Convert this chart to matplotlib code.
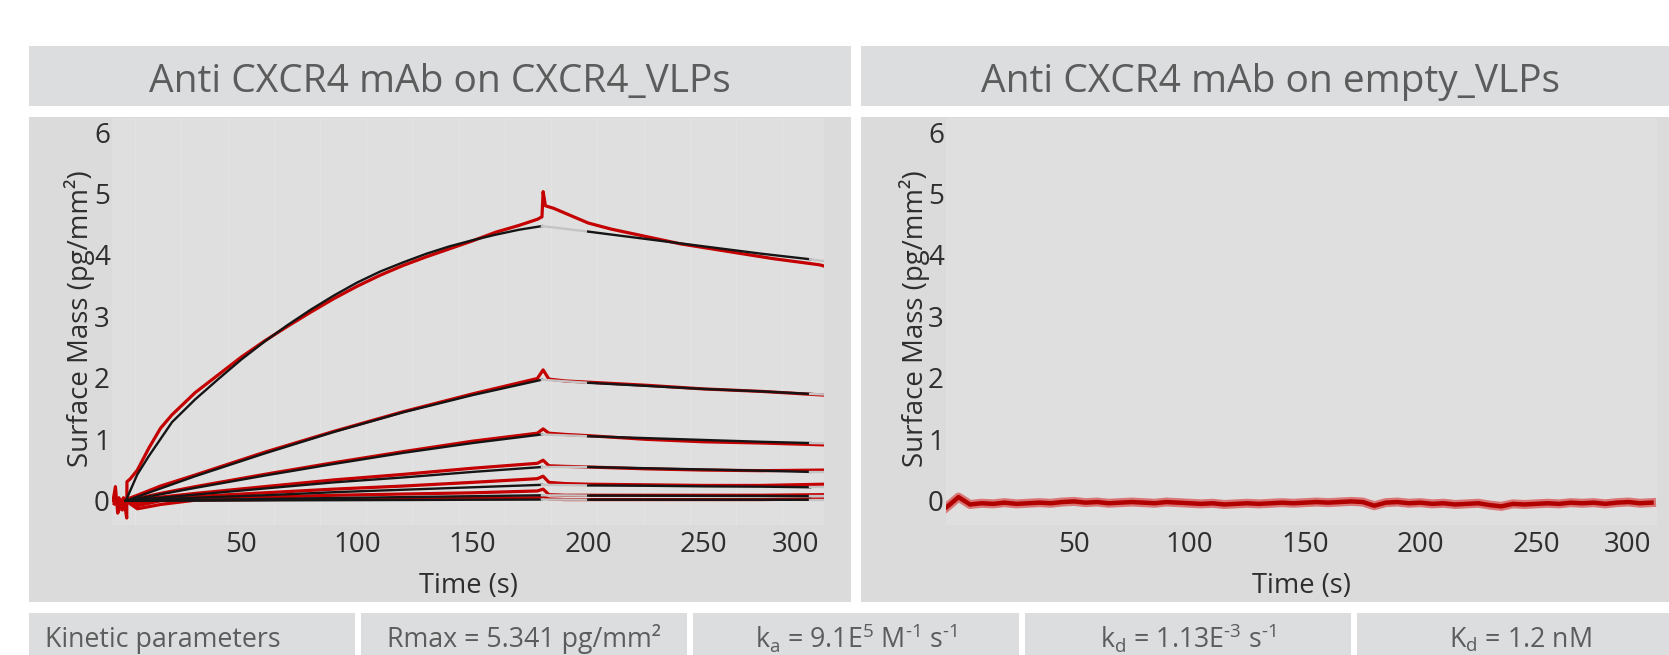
import matplotlib
matplotlib.use('Agg')
import matplotlib.pyplot as plt
from matplotlib.patches import Rectangle

plt.rcParams['font.family'] = ['Open Sans', 'DejaVu Sans']
plt.rcParams['mathtext.fontset'] = 'custom'
plt.rcParams['mathtext.rm'] = 'Open Sans'
plt.rcParams['mathtext.it'] = 'Open Sans:italic'
plt.rcParams['mathtext.bf'] = 'Open Sans:bold'

# ---------------- data ----------------
titles = ["Anti CXCR4 mAb on CXCR4_VLPs", "Anti CXCR4 mAb on empty_VLPs"]
table_labels = ["Kinetic parameters",
                "Rmax = 5.341 pg/mm\u00b2",
                r"k$_{\mathrm{a}}$ = 9.1E$^{\mathrm{5}}$ M$^{\text{-1}}$ s$^{\text{-1}}$",
                r"k$_{\mathrm{d}}$ = 1.13E$^{\text{-3}}$ s$^{\text{-1}}$",
                r"K$_{\mathrm{d}}$ = 1.2 nM"]
x_ticks = [50, 100, 150, 200, 250, 300]
y_ticks = [0, 1, 2, 3, 4, 5, 6]
x_label = "Time (s)"
y_label = "Surface Mass (pg/mm\u00b2)"

# highest concentration: measured trace
t_hi = [-5.5, -4.5, -3.5, -2.5, -1.5, -0.5, 0.4, 0.5, 2, 5, 10, 15, 20, 30, 40, 50, 60, 70,
        80, 90, 100, 110, 120, 130, 140, 150, 160, 170, 178, 180, 180.5, 181.5, 185,
        190, 200, 210, 220, 230, 240, 250, 260, 270, 280, 290, 300, 302]
data_hi = [0.0, 0.23, -0.2, -0.1, -0.15, -0.05, -0.28, 0.31, 0.36, 0.50, 0.86, 1.18, 1.40,
           1.76, 2.05, 2.34, 2.60, 2.84, 3.07, 3.29, 3.49, 3.67, 3.83, 3.97, 4.10, 4.23,
           4.37, 4.48, 4.58, 4.62, 5.03, 4.80, 4.76, 4.68, 4.52, 4.42, 4.34, 4.26, 4.18,
           4.12, 4.06, 4.00, 3.94, 3.89, 3.84, 3.82]

# lower concentrations: measured traces
t_lo = [-5, -3, -1, 0, 5, 15, 30, 60, 90, 120, 150, 178, 180.5, 183, 190, 200, 225, 250, 275, 302]
data_c2 = [0.05, -0.08, 0.0, 0.02, 0.09, 0.24, 0.42, 0.79, 1.13, 1.45, 1.74, 1.99, 2.13, 1.98, 1.95, 1.93, 1.88, 1.82, 1.78, 1.72]
data_c3 = [0.0, -0.1, 0.05, 0.0, 0.04, 0.12, 0.23, 0.43, 0.62, 0.80, 0.97, 1.10, 1.17, 1.10, 1.08, 1.06, 1.00, 0.96, 0.94, 0.91]
data_c4 = [-0.05, 0.05, -0.1, 0.0, 0.02, 0.06, 0.12, 0.23, 0.34, 0.43, 0.53, 0.61, 0.66, 0.57, 0.56, 0.55, 0.52, 0.50, 0.49, 0.50]
data_c5 = [0.0, -0.05, 0.02, 0.0, -0.03, 0.02, 0.07, 0.13, 0.19, 0.24, 0.30, 0.36, 0.40, 0.30, 0.28, 0.27, 0.26, 0.25, 0.25, 0.27]
data_c6 = [-0.02, 0.03, -0.05, 0.0, -0.08, 0.0, 0.03, 0.06, 0.09, 0.11, 0.13, 0.16, 0.19, 0.10, 0.09, 0.09, 0.09, 0.09, 0.09, 0.10]
data_c7 = [0.0, -0.03, 0.02, 0.0, -0.13, -0.06, 0.01, 0.02, 0.03, 0.03, 0.04, 0.05, 0.07, 0.03, 0.02, 0.02, 0.02, 0.02, 0.02, 0.03]

# fitted curves: association phase
t_fit_hi = [0, 5, 10, 20, 30, 40, 50, 60, 70, 80, 90, 100, 110, 120, 130, 140, 150, 160, 170, 180]
fit_hi_a = [0, 0.43, 0.73, 1.28, 1.65, 1.98, 2.30, 2.59, 2.86, 3.11, 3.34, 3.55, 3.73, 3.88, 4.02, 4.14, 4.24, 4.33, 4.41, 4.47]
t_fit_lo = [0, 30, 60, 90, 120, 150, 180]
fit_c2_a = [0, 0.40, 0.77, 1.12, 1.44, 1.72, 1.97]
fit_c3_a = [0, 0.21, 0.41, 0.60, 0.78, 0.94, 1.08]
fit_c4_a = [0, 0.10, 0.20, 0.30, 0.38, 0.47, 0.55]
fit_c5_a = [0, 0.05, 0.09, 0.14, 0.18, 0.22, 0.26]
fit_c6_a = [0, 0.015, 0.03, 0.045, 0.06, 0.075, 0.09]
fit_c7_a = [0, 0.003, 0.007, 0.010, 0.013, 0.017, 0.020]

# fitted curves: dissociation phase (first and last segments outside the fit window)
t_fit_d = [180, 200, 225, 250, 275, 296, 302]
fit_hi_d = [4.47, 4.38, 4.26, 4.14, 4.02, 3.93, 3.90]
fit_c2_d = [1.97, 1.92, 1.87, 1.82, 1.78, 1.74, 1.73]
fit_c3_d = [1.08, 1.05, 1.02, 0.99, 0.96, 0.94, 0.935]
fit_c4_d = [0.55, 0.55, 0.53, 0.51, 0.49, 0.47, 0.47]
fit_c5_d = [0.26, 0.25, 0.245, 0.235, 0.23, 0.22, 0.22]
fit_c6_d = [0.09, 0.085, 0.083, 0.08, 0.078, 0.075, 0.075]
fit_c7_d = [0.02, 0.018, 0.018, 0.017, 0.017, 0.016, 0.016]

# empty VLP control trace
t_empty = list(range(-5, 305, 5))
data_empty = [-0.10, 0.06, -0.06, -0.04, -0.05, -0.03, -0.05, -0.04, -0.03, -0.04,
              -0.02, -0.01, -0.03, -0.02, -0.04, -0.03, -0.02, -0.03, -0.04, -0.02,
              -0.03, -0.04, -0.05, -0.04, -0.06, -0.05, -0.04, -0.05, -0.04, -0.03,
              -0.04, -0.03, -0.02, -0.03, -0.02, -0.01, -0.02, -0.08, -0.03, -0.02,
              -0.04, -0.03, -0.05, -0.04, -0.06, -0.05, -0.04, -0.07, -0.09, -0.05,
              -0.06, -0.05, -0.04, -0.05, -0.03, -0.04, -0.03, -0.05, -0.03, -0.02,
              -0.04, -0.03]

# ---------------- style ----------------
W, H = 1669, 655
BOX = '#dcdddf'
PANEL = '#dbdbdb'
AXBG = '#dfdfdf'
RED = '#c40000'
BLACK = '#151515'
GRAY = '#c4c4c4'
TXT = '#5c5c5c'
DARK = '#2e2e2e'

fig = plt.figure(figsize=(W / 100, H / 100), dpi=100)
fig.patch.set_facecolor('white')


def fx(x):
    return x / W


def fy(y):
    return 1 - y / H


def rect(x0, y0, x1, y1, color):
    fig.add_artist(Rectangle((fx(x0), fy(y1)), (x1 - x0) / W, (y1 - y0) / H,
                             transform=fig.transFigure, facecolor=color,
                             edgecolor='none', zorder=0))


# header boxes, panels, table cells
rect(29, 46, 851, 106, BOX)
rect(861, 46, 1669, 106, BOX)
rect(29, 117, 851, 602, PANEL)
rect(861, 117, 1669, 602, PANEL)
cells = [(29, 355), (361, 687), (693, 1019), (1025, 1351), (1357, 1669)]
for x0, x1 in cells:
    rect(x0, 613, x1, 655, BOX)

fig.text(fx(440), fy(91.7), titles[0], ha='center', va='baseline', fontsize=28, color=TXT)
fig.text(fx(1270), fy(91.7), titles[1], ha='center', va='baseline', fontsize=28, color=TXT)

fig.text(fx(45), fy(647.5), table_labels[0], ha='left', va='baseline', fontsize=19.3, color=TXT)
for lab, xc in zip(table_labels[1:], [524, 856, 1188, 1520]):
    fig.text(fx(xc), fy(647.5), lab, ha='center', va='baseline', fontsize=19.3, color=TXT)

# axes geometry (pixels)
YTOP, YBOT = 118, 525
y0_px, px_per_unit = 500.8, 61.46
ylim = (-(YBOT - y0_px) / px_per_unit, (y0_px - YTOP) / px_per_unit)

axL = fig.add_axes([fx(112), fy(YBOT), (824 - 112) / W, (YBOT - YTOP) / H])
axR = fig.add_axes([fx(946), fy(YBOT), (1657 - 946) / W, (YBOT - YTOP) / H])
axL.set_xlim((112 - 125.8) / 2.312, (824 - 125.8) / 2.312)
axR.set_xlim((946 - 958.5) / 2.31, (1657 - 958.5) / 2.31)

for ax, ylx in ((axL, -0.024), (axR, -0.0225)):
    ax.set_facecolor(AXBG)
    ax.set_ylim(*ylim)
    for s in ax.spines.values():
        s.set_visible(False)
    ax.set_xticks(x_ticks, labels=[str(v) for v in x_ticks])
    ax.set_yticks(y_ticks, labels=[str(v) for v in y_ticks])
    ax.tick_params(axis='both', length=0, labelsize=20, labelcolor=DARK)
    ax.tick_params(axis='x', pad=4)
    ax.tick_params(axis='y', pad=1.5)
    ax.get_xticklabels()[-1].set_ha('right')
    ax.set_xlabel(x_label, fontsize=19.7, color=DARK)
    ax.set_ylabel(y_label, fontsize=19.9, color=DARK)
    ax.xaxis.label.set_va('baseline')
    ax.xaxis.set_label_coords(0.5, -0.168)
    ax.yaxis.set_label_coords(ylx, 0.5076)

# faint grid in the left plot
axL.set_xticks(list(range(4, 300, 20)), minor=True)
axL.tick_params(axis='x', which='minor', length=0)
axL.grid(True, which='minor', axis='x', color='#e4e4e4', lw=1.0, zorder=0)
axL.set_axisbelow(True)

# measured traces
axL.plot(t_hi, data_hi, color=RED, lw=2.3, zorder=2, solid_joinstyle='round')
for d in (data_c2, data_c3, data_c4, data_c5, data_c6, data_c7):
    axL.plot(t_lo, d, color=RED, lw=2.3, zorder=2, solid_joinstyle='round')

# fitted curves
fits = [(t_fit_hi, fit_hi_a, fit_hi_d), (t_fit_lo, fit_c2_a, fit_c2_d),
        (t_fit_lo, fit_c3_a, fit_c3_d), (t_fit_lo, fit_c4_a, fit_c4_d),
        (t_fit_lo, fit_c5_a, fit_c5_d), (t_fit_lo, fit_c6_a, fit_c6_d),
        (t_fit_lo, fit_c7_a, fit_c7_d)]
for ta, fa, fd in fits:
    axL.plot(ta, fa, color=BLACK, lw=1.7, zorder=3)
    axL.plot(t_fit_d[0:2], fd[0:2], color=GRAY, lw=1.7, zorder=3)
    axL.plot(t_fit_d[1:6], fd[1:6], color=BLACK, lw=1.7, zorder=3)
    axL.plot(t_fit_d[5:7], fd[5:7], color=GRAY, lw=1.7, zorder=3)

# empty VLP trace
axR.plot(t_empty, data_empty, color='#d84a4a', lw=6.5, alpha=0.7, zorder=2)
axR.plot(t_empty, data_empty, color='#b00000', lw=3.2, zorder=3)

fig.savefig('out.png', dpi=100, facecolor='white')
